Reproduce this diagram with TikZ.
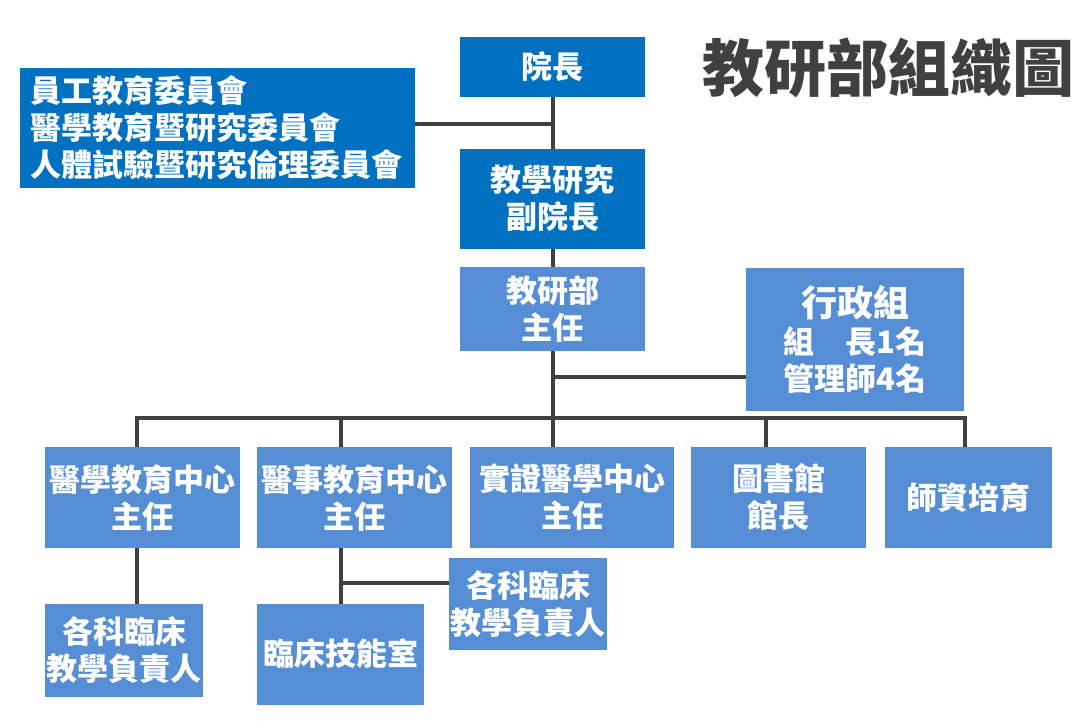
\documentclass[tikz,border=0pt]{standalone}
\usepackage{fontspec}
\setmainfont{Noto Sans CJK TC}
\definecolor{dkblue}{HTML}{0070C0}
\definecolor{ltblue}{HTML}{558ED5}
\definecolor{linegray}{HTML}{404040}
\begin{document}
\begin{tikzpicture}[x=1pt,y=-1pt,
  basebox/.style={rectangle, text=white, font=\bfseries\fontsize{31}{37}\selectfont, align=center, inner sep=0pt, outer sep=0pt},
  darkbox/.style={basebox, fill=dkblue},
  lightbox/.style={basebox, fill=ltblue},
  conn/.style={draw=linegray, line width=4pt, line join=miter}]
\useasboundingbox (0,0) rectangle (1092,720);
% nodes
\node[darkbox, minimum width=185, minimum height=60] (yz) at (552.5,67) {院長};
\node[darkbox, minimum width=395, minimum height=120, text width=375, inner xsep=10pt, align=left] (cm) at (217.5,128) {員工教育委員會\\醫學教育暨研究委員會\\人體試驗暨研究倫理委員會};
\node[darkbox, minimum width=185, minimum height=100] (fyz) at (552.5,198.5) {教學研究\\副院長};
\node[lightbox, minimum width=185, minimum height=84] (zr) at (552.5,309) {教研部\\主任};
\node[lightbox, minimum width=218, minimum height=143] (xz) at (855,339) {{\fontsize{36}{40}\selectfont 行政組}\\組　長1名\\管理師4名};
\node[lightbox, minimum width=195, minimum height=101] (b1) at (142.5,497.5) {醫學教育中心\\主任};
\node[lightbox, minimum width=195, minimum height=101] (b2) at (354.5,497.5) {醫事教育中心\\主任};
\node[lightbox, minimum width=204, minimum height=101] (b3) at (572,497.5) {實證醫學中心\\主任};
\node[lightbox, minimum width=175, minimum height=101] (b4) at (778.5,497.5) {圖書館\\館長};
\node[lightbox, minimum width=167, minimum height=101] (b5) at (968.5,497.5) {師資培育};
\node[lightbox, minimum width=158, minimum height=93] (c1) at (124,650.5) {各科臨床\\教學負責人};
\node[lightbox, minimum width=167, minimum height=101] (c2) at (340.5,654) {臨床技能室};
\node[lightbox, minimum width=158, minimum height=92] (c3) at (528,604) {各科臨床\\教學負責人};
\node[text=linegray, font=\bfseries\fontsize{62}{70}\selectfont, inner sep=0pt] (title) at (888,68) {教研部組織圖};
% coordinates
\coordinate (j1) at (552.5,124);
\coordinate (j2) at (552.5,377);
\coordinate (busL) at (137,418);
\coordinate (busR) at (965,418);
\coordinate (d2) at (341,418);
\coordinate (d4) at (766,418);
\coordinate (j3) at (341,583);
% connectors
\draw[conn] (yz.south) -- (fyz.north);
\draw[conn] (cm.east |- j1) -- (j1);
\draw[conn] (fyz.south) -- (zr.north);
\draw[conn] (zr.south) -- (zr.south |- b3.north);
\draw[conn] (j2) -- (xz.west |- j2);
\draw[conn] (b1.north -| busL) -- (busL) -- (busR) -- (b5.north -| busR);
\draw[conn] (d2) -- (b2.north -| d2);
\draw[conn] (d4) -- (b4.north -| d4);
\draw[conn] (b1.south -| busL) -- (c1.north -| busL);
\draw[conn] (b2.south -| d2) -- (c2.north -| d2);
\draw[conn] (j3) -- (c3.west |- j3);
\end{tikzpicture}
\end{document}
